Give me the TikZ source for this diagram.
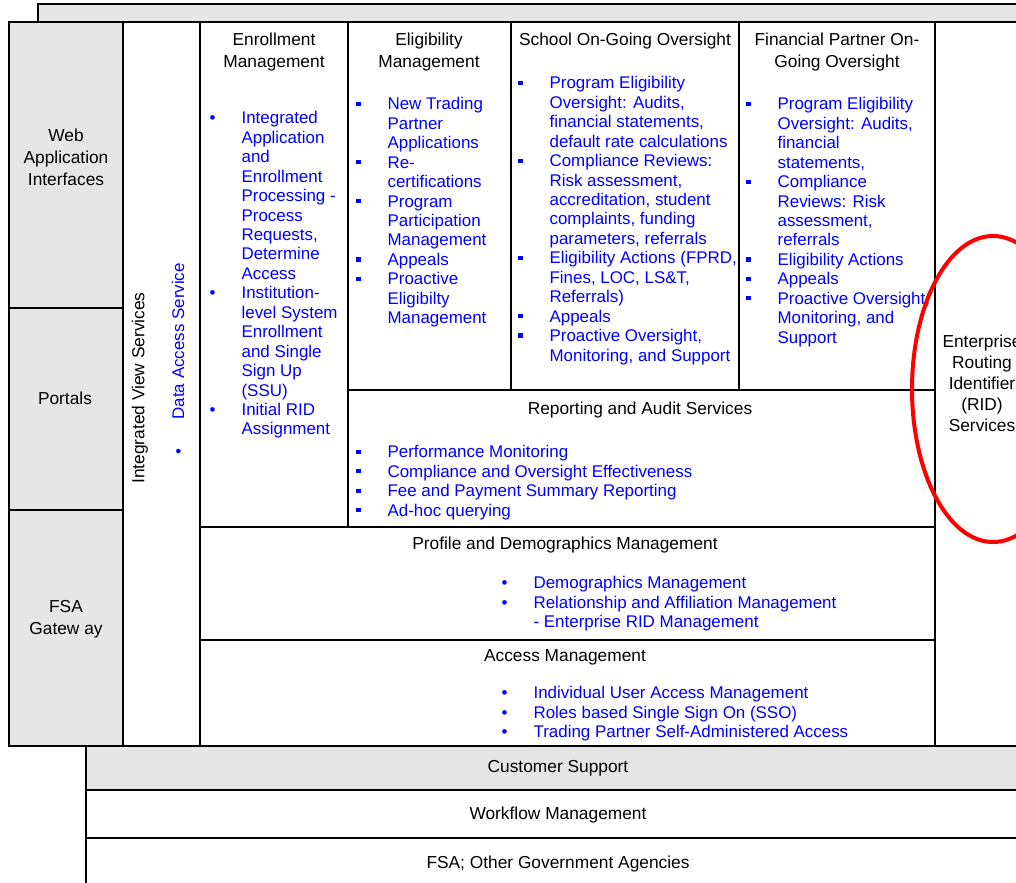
\documentclass[tikz,border=0pt]{standalone}
\usepackage{fontspec}
\setmainfont{Liberation Sans}
\definecolor{panelgrey}{HTML}{E6E6E6}
\newcommand{\rdot}{\leavevmode\llap{\textbullet\hspace{19.5pt}}}
\newcommand{\sqdot}{\leavevmode\llap{\rule[2.9pt]{3.2pt}{3.2pt}\hspace{20.25pt}}}

\begin{document}
\begin{tikzpicture}[x=0.75pt, y=-0.75pt, line width=0.9pt,
  hdr/.style={align=center, inner sep=0pt, anchor=north, font=\fontsize{13}{16.5}\selectfont},
  lst/.style={align=left, inner sep=0pt, anchor=north west, text=blue, font=\fontsize{12.7}{14.58}\selectfont}]
\useasboundingbox (0,0) rectangle (1016,882);
\clip (0,0) rectangle (1016,882);
% frames
\draw[fill=panelgrey] (38,4) rectangle (1070,22);
\draw (9,22) rectangle (1030,746);
\draw[fill=panelgrey] (9,22) rectangle (123,746);
\draw (9,308) -- (123,308);
\draw (9,510) -- (123,510);
\draw (123,22) rectangle (200,746);
\draw (200,22) rectangle (348,527);
\draw (348,22) rectangle (511,390);
\draw (511,22) rectangle (739,390);
\draw (739,22) rectangle (935,390);
\draw (348,390) rectangle (935,527);
\draw (200,527) rectangle (935,640);
\draw (200,640) rectangle (935,746);
\draw (935,22) rectangle (1030,746);
\draw[fill=panelgrey] (86,746) rectangle (1030,790);
\draw (86,790) rectangle (1030,838);
\draw (86,838) rectangle (1030,900);
% headers
\node[hdr] (web) at (66,128.5) {Web\\Application\\Interfaces};
\node[hdr] (portals) at (65,391.5) {Portals};
\node[hdr] (gate) at (66,600) {FSA\\Gatew ay};
\node[hdr, anchor=center, rotate=90] (ivs) at (140,388) {Integrated View Services};
\node[hdr] (enr) at (274,32.5) {Enrollment\\Management};
\node[hdr] (elig) at (429,32.5) {Eligibility\\Management};
\node[hdr] (school) at (625,32.5) {School On-Going Oversight};
\node[hdr] (fin) at (837,32.5) {Financial Partner On-\\Going Oversight};
\node[hdr] (rep) at (640,401.5) {Reporting and Audit Services};
\node[hdr] (prof) at (565,536.5) {Profile and Demographics Management};
\node[hdr] (acc) at (565,648.5) {Access Management};
\node[hdr, font=\fontsize{13}{15.75}\selectfont] (rid) at (982,334.5) {Enterprise\\Routing\\Identifier\\(RID)\\Services};
\node[hdr] (cust) at (558,759.5) {Customer Support};
\node[hdr] (wf) at (558,806.5) {Workflow Management};
\node[hdr] (other) at (558,855.5) {FSA; Other Government Agencies};
% item lists
\node[lst, anchor=west, rotate=90] (das) at (178,420) {\llap{\textbullet\hspace{21.75pt}}Data Access Service};
\node[lst] (l1) at (241,111) {\rdot Integrated\\Application\\and\\Enrollment\\Processing -\\Process\\Requests,\\Determine\\Access\\
  \rdot Institution-\\level System\\Enrollment\\and Single\\Sign Up\\(SSU)\\
  \rdot Initial RID\\Assignment};
\node[lst] (l2) at (387,97) {\sqdot New Trading\\Partner\\Applications\\
  \sqdot Re-\\certifications\\
  \sqdot Program\\Participation\\Management\\
  \sqdot Appeals\\
  \sqdot Proactive\\Eligibilty\\Management};
\node[lst] (l3) at (549,76) {\sqdot Program Eligibility\\Oversight: Audits,\\financial statements,\\default rate calculations\\
  \sqdot Compliance Reviews:\\Risk assessment,\\accreditation, student\\complaints, funding\\parameters, referrals\\
  \sqdot Eligibility Actions (FPRD,\\Fines, LOC, LS\&T,\\Referrals)\\
  \sqdot Appeals\\
  \sqdot Proactive Oversight,\\Monitoring, and Support};
\node[lst] (l4) at (777,97) {\sqdot Program Eligibility\\Oversight: Audits,\\financial\\statements,\\
  \sqdot Compliance\\Reviews: Risk\\assessment,\\referrals\\
  \sqdot Eligibility Actions\\
  \sqdot Appeals\\
  \sqdot Proactive Oversight,\\Monitoring, and\\Support};
\node[lst] (l5) at (387,445) {\sqdot Performance Monitoring\\
  \sqdot Compliance and Oversight Effectiveness\\
  \sqdot Fee and Payment Summary Reporting\\
  \sqdot Ad-hoc querying};
\node[lst] (l6) at (533,576) {\rdot Demographics Management\\
  \rdot Relationship and Affiliation Management\\- Enterprise RID Management};
\node[lst] (l7) at (533,686) {\rdot Individual User Access Management\\
  \rdot Roles based Single Sign On (SSO)\\
  \rdot Trading Partner Self-Administered Access};
% RID highlight
\draw[red, line width=3pt] (993,389) ellipse [x radius=81, y radius=153];
\end{tikzpicture}
\end{document}
